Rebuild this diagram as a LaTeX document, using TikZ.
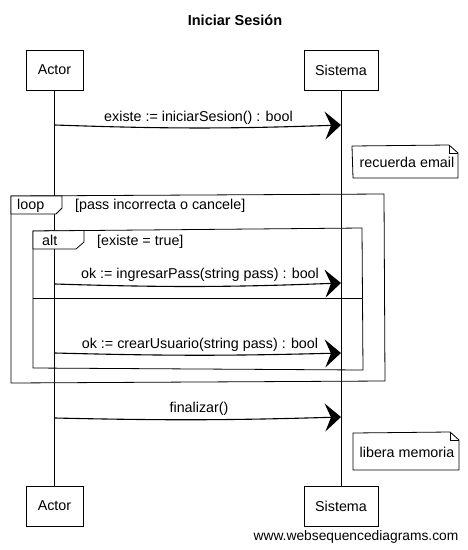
\documentclass[tikz,border=0pt]{standalone}
\usepackage{fontspec}
\setmainfont{Liberation Sans}
\usetikzlibrary{arrows.meta}
\begin{document}
\begin{tikzpicture}[x=1pt,y=-1pt,
  every node/.style={font=\fontsize{14.3}{16}\selectfont, inner sep=0pt},
  actorbox/.style={draw, line width=0.8pt, minimum height=40pt, anchor=center},
  life/.style={line width=0.7pt},
  msg/.style={line width=1.1pt, -{Stealth[length=16pt,width=28pt,inset=6pt]}},
  frame/.style={line width=0.8pt},
  tab/.style={frame, fill=white},
  lbl/.style={anchor=base},
]
\useasboundingbox (0,0) rectangle (468,550);
% title
\node[font=\fontsize{14.5}{16}\selectfont\bfseries] (title) at (235,20) {Iniciar Sesión};
% participants
\node[actorbox, minimum width=57pt] (a1) at (54.5,70) {Actor};
\node[actorbox, minimum width=74pt] (s1) at (341,70) {Sistema};
\node[actorbox, minimum width=57pt] (a2) at (54.5,506) {Actor};
\node[actorbox, minimum width=74pt] (s2) at (341,506) {Sistema};
% lifelines
\draw[life] (a1.south) -- (a2.north);
\draw[life] (s1.south) -- (s2.north);
% message 1
\coordinate (m1a) at (55,125);
\coordinate (m1b) at (341,125);
\draw[msg] (m1a) to[bend right=2] (m1b);
\node[lbl] (l1) at (198.5,121) {existe := iniciarSesion() : bool};
% note 1
\draw[frame] (352,146) -- (449,145) -- (458,153) -- (458,178) -- (353,178) -- cycle;
\draw[line width=0.6pt] (449,145) -- (449,153) -- (458,153);
\node (n1) at (407,162) {recuerda email};
% loop frame
\draw[frame] (11,196) -- (384,194) -- (385,381) -- (11,383) -- cycle;
\draw[tab] (11,196) -- (62,196) -- (62,208) -- (56,214) -- (11,214) -- cycle;
\node[anchor=base west] (loopt) at (17,209.5) {loop};
\node[anchor=base west] (loopg) at (75,209.5) {[pass incorrecta o cancele]};
% alt frame
\draw[frame] (33,231) -- (362,228) -- (363,370) -- (33,368) -- cycle;
\draw[tab] (33,231) -- (84,230.5) -- (84,242) -- (76,249) -- (33,249) -- cycle;
\node[anchor=base west] (altt) at (42,245) {alt};
\node[anchor=base west] (altg) at (97,245) {[existe = true]};
\draw[frame] (33,298) -- (363,298);
% message 2
\coordinate (m2a) at (55,284);
\coordinate (m2b) at (341,283);
\draw[msg] (m2a) to[bend right=2] (m2b);
\node[lbl] (l2) at (200,278) {ok := ingresarPass(string pass) : bool};
% message 3
\coordinate (m3a) at (55,353);
\coordinate (m3b) at (341,353);
\draw[msg] (m3a) to[bend right=1.5] (m3b);
\node[lbl] (l3) at (200,348) {ok := crearUsuario(string pass) : bool};
% message 4
\coordinate (m4a) at (55,418);
\coordinate (m4b) at (341,417);
\draw[msg] (m4a) to[bend right=1.5] (m4b);
\node[lbl] (l4) at (199,412) {finalizar()};
% note 2
\draw[frame] (353,433) -- (450,432) -- (459,440) -- (459,470) -- (353,470) -- cycle;
\draw[line width=0.6pt] (450,432) -- (450,440) -- (459,440);
\node (n2) at (407,452) {libera memoria};
% watermark
\node[font=\fontsize{13.8}{16}\selectfont] (wm) at (356,537) {www.websequencediagrams.com};
\end{tikzpicture}
\end{document}
